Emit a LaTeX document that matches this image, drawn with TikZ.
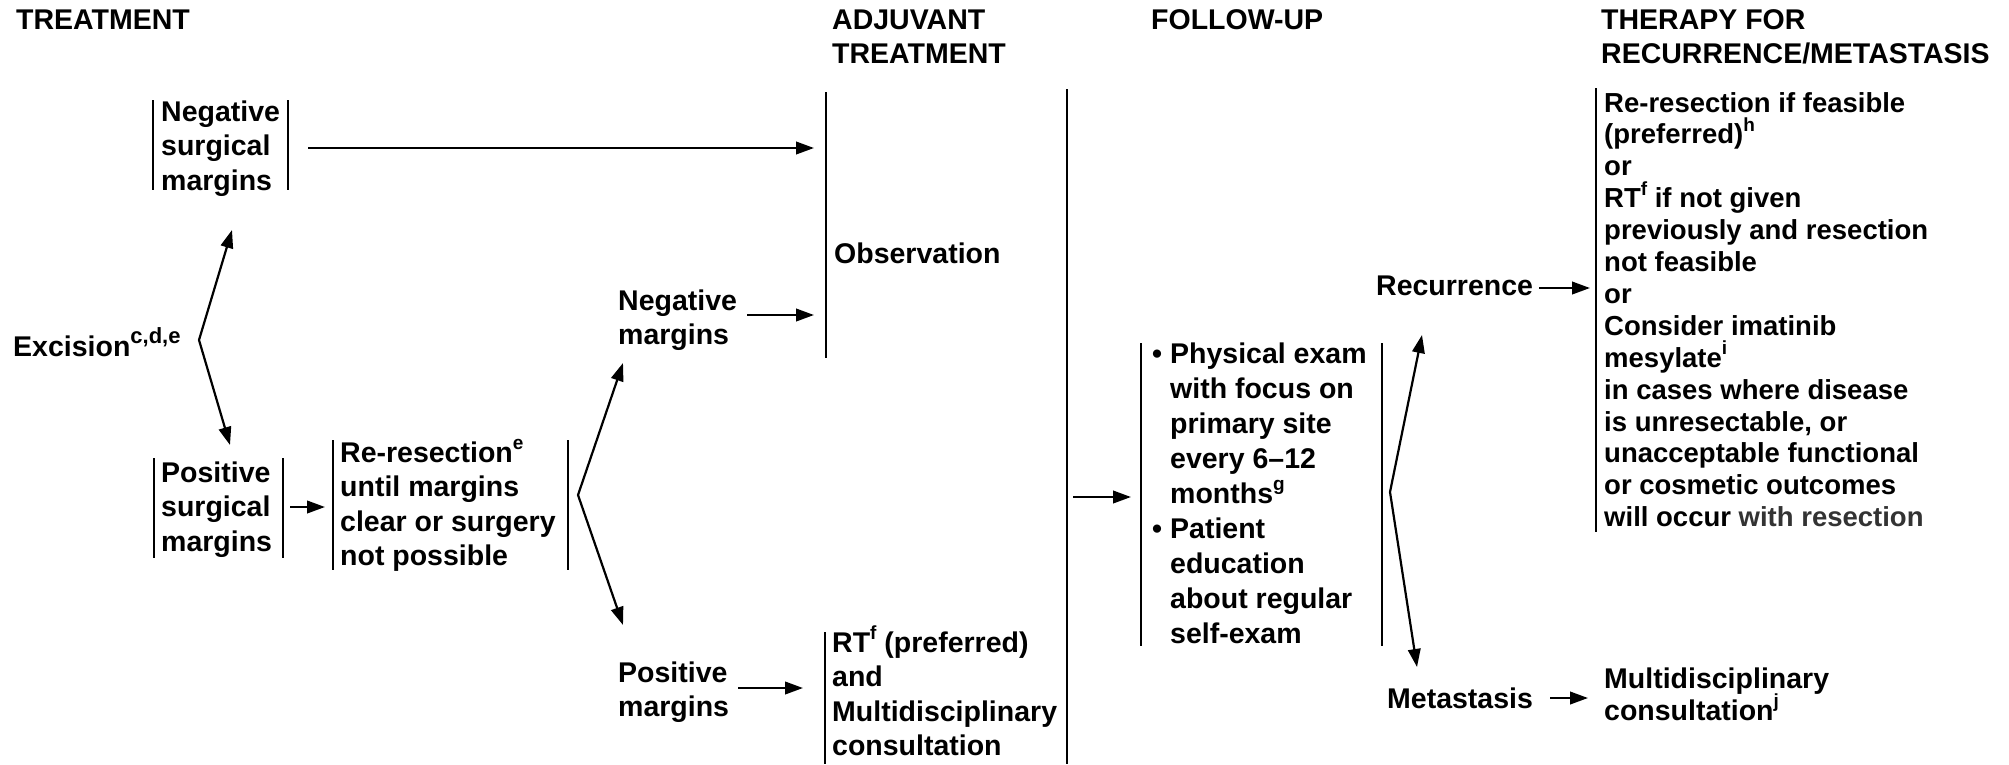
\documentclass[tikz,border=0pt]{standalone}
\usepackage{fontspec}
\setmainfont{Liberation Sans}
\usetikzlibrary{arrows.meta}
\newcommand{\sps}[2][19]{\smash{\raisebox{0.45em}{\fontsize{#1}{#1}\selectfont #2}}}
\newcommand{\ml}[1]{\begin{tabular}[t]{@{}l@{}}#1\end{tabular}}
\definecolor{grayt}{HTML}{333333}
\begin{document}
\begin{tikzpicture}[x=1pt,y=-1pt,
  txt/.style={anchor=base west, inner sep=0pt, font=\fontsize{28.5}{34.5}\selectfont\bfseries},
  ther/.style={txt, font=\fontsize{27.5}{31.9}\selectfont\bfseries},
  fut/.style={txt, font=\fontsize{28.5}{35}\selectfont\bfseries},
  mct/.style={txt, font=\fontsize{28.5}{32}\selectfont\bfseries},
  bar/.style={line width=2.6pt},
  arr/.style={line width=2.4pt, -{Triangle[length=18pt,width=12.5pt]}},
  darr/.style={line width=2.2pt, {Triangle[length=18pt,width=12.5pt]}-{Triangle[length=18pt,width=12.5pt]}}]
\fill[white] (0,0) rectangle (2009,764);
\useasboundingbox (0,0) rectangle (2009,764);

% headers
\node[txt] (hTreat) at (16,29) {TREATMENT};
\node[txt] (hAdj) at (832,29) {\ml{ADJUVANT\\TREATMENT}};
\node[txt] (hFU) at (1151,29) {FOLLOW-UP};
\node[txt] (hTher) at (1601,29) {\ml{THERAPY FOR\\RECURRENCE/METASTASIS}};

% treatment column
\node[txt] (exc) at (13,356) {Excision\sps[22]{c,d,e}};
\node[txt] (negS) at (161,121) {\ml{Negative\\surgical\\margins}};
\draw[bar] (153,100) -- (153,190) (288,100) -- (288,190);
\node[txt] (posS) at (161,482) {\ml{Positive\\surgical\\margins}};
\draw[bar] (154,458) -- (154,558) (283,458) -- (283,558);
\node[txt] (rer) at (340,462) {\ml{Re-resection\sps{e}\\until margins\\clear or surgery\\not possible}};
\draw[bar] (333,440) -- (333,570) (568,440) -- (568,570);
\node[txt] (negM) at (618,310) {\ml{Negative\\margins}};
\node[txt] (posM) at (618,682) {\ml{Positive\\margins}};

% adjuvant column
\draw[bar] (826,92) -- (826,358);
\node[txt] (obs) at (834,263) {Observation};
\draw[bar] (825,632) -- (825,764);
\node[txt] (rt) at (832,652) {\ml{RT\sps{f} (preferred)\\and\\Multidisciplinary\\consultation}};
\draw[bar] (1067,89) -- (1067,764);

% follow-up
\draw[bar] (1141,343) -- (1141,646) (1382,343) -- (1382,646);
\node[fut] (fu) at (1152,363) {\begin{tabular}[t]{@{}l@{\hspace{8pt}}l@{}}\textbullet&Physical exam\\&with focus on\\&primary site\\&every 6--12\\&months\sps{g}\\\textbullet&Patient\\&education\\&about regular\\&self-exam\end{tabular}};
\node[txt] (rec) at (1376,295) {Recurrence};
\node[txt] (met) at (1387,708) {Metastasis};

% therapy
\draw[bar] (1596,88) -- (1596,532);
\node[ther] (thr) at (1604,112) {\ml{Re-resection if feasible\\(preferred)\sps{h}\\or\\RT\sps{f} if not given\\previously and resection\\not feasible\\or\\Consider imatinib\\mesylate\sps{i}\\in cases where disease\\is unresectable, or\\unacceptable functional\\or cosmetic outcomes\\will occur \textcolor{grayt}{with resection}}};
\node[mct] (mc) at (1604,688) {\ml{Multidisciplinary\\consultation\sps{j}}};

% connector points
\coordinate (exV) at (199,340);
\coordinate (exU) at (232,230);
\coordinate (exL) at (230,445);
\coordinate (negSo) at (308,148);
\coordinate (obsIn1) at (814,148);
\coordinate (posSo) at (290,507);
\coordinate (rerIn) at (325,507);
\coordinate (rerV) at (578,495);
\coordinate (rerU) at (623,363);
\coordinate (rerL) at (623,625);
\coordinate (negMo) at (747,315);
\coordinate (obsIn2) at (814,315);
\coordinate (posMo) at (738,688);
\coordinate (rtIn) at (803,688);
\coordinate (adjO) at (1073,497);
\coordinate (fuIn) at (1131,497);
\coordinate (fuV) at (1390,492);
\coordinate (fuU) at (1422,335);
\coordinate (fuL) at (1417,667);
\coordinate (recO) at (1539,288);
\coordinate (therIn) at (1590,288);
\coordinate (metO) at (1550,698);
\coordinate (mcIn) at (1588,698);

\draw[darr] (exU) -- (exV) -- (exL);
\draw[arr] (negSo) -- (obsIn1);
\draw[arr] (posSo) -- (rerIn);
\draw[darr] (rerU) -- (rerV) -- (rerL);
\draw[arr] (negMo) -- (obsIn2);
\draw[arr] (posMo) -- (rtIn);
\draw[arr] (adjO) -- (fuIn);
\draw[darr] (fuU) -- (fuV) -- (fuL);
\draw[arr] (recO) -- (therIn);
\draw[arr] (metO) -- (mcIn);
\end{tikzpicture}
\end{document}
